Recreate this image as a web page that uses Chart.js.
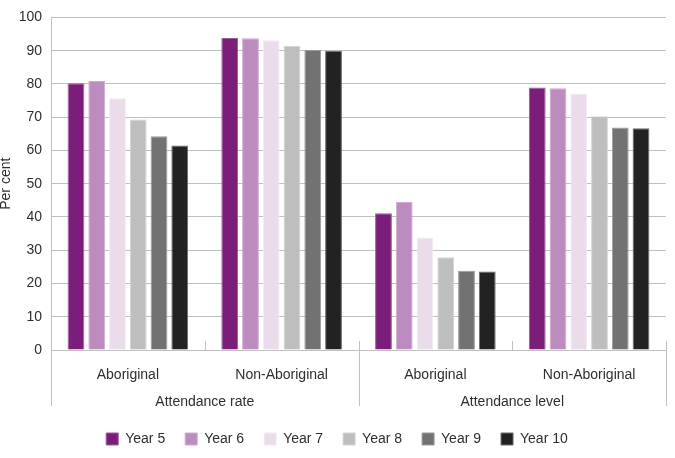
<!DOCTYPE html>
<html>
<head>
<meta charset="utf-8">
<script src="https://cdn.jsdelivr.net/npm/chart.js@4.4.1/dist/chart.umd.min.js"></script>
<style>
  html, body { margin: 0; padding: 0; background: #fff; }
  #wrap { width: 675px; height: 458px; position: relative; }
</style>
</head>
<body>
<div id="wrap"><canvas id="chart"></canvas></div>
<script>
const categories = ["Aboriginal", "Non-Aboriginal", "Aboriginal", "Non-Aboriginal"];
const groupLabels = ["Attendance rate", "Attendance level"];
const yTicks = [0, 10, 20, 30, 40, 50, 60, 70, 80, 90, 100];

const year5 = [80.2, 93.8, 41.1, 78.9];
const year6 = [80.9, 93.7, 44.5, 78.7];
const year7 = [75.7, 93.1, 33.8, 77.1];
const year8 = [69.3, 91.5, 27.9, 70.3];
const year9 = [64.3, 90.2, 23.8, 66.9];
const year10 = [61.5, 90.0, 23.6, 66.7];

const textColor = "#2e2e2e";
const gridColor = "#c0c0c0";
const fontFamily = "'Liberation Sans', Arial, sans-serif";

function series(label, data, fill, edge) {
  return {
    label,
    data,
    backgroundColor: fill,
    borderColor: edge,
    borderWidth: 1,
    categoryPercentage: 0.81,
    barPercentage: 0.81,
  };
}

// category separators: short ticks inside, long ones between the two groups
const separators = {
  id: "separators",
  afterDraw(chart) {
    const x = chart.scales.x;
    const x2 = chart.scales.x2;
    const ctx = chart.ctx;
    ctx.save();
    ctx.strokeStyle = gridColor;
    ctx.lineWidth = 1;
    for (let i = 0; i <= categories.length; i++) {
      const px = Math.round(x.getPixelForValue(i - 0.5)) + 0.5;
      const long = i % 2 === 0;
      ctx.beginPath();
      ctx.moveTo(px, x.top - 9);
      ctx.lineTo(px, long ? x2.bottom - 6 : x.top);
      ctx.stroke();
    }
    ctx.restore();
  },
};

new Chart(document.getElementById("chart"), {
  type: "bar",
  data: {
    labels: categories,
    datasets: [
      series("Year 5", year5, "#7b1e7a", "#9c5a9b"),
      series("Year 6", year6, "#bc8cbe", "#cfabd0"),
      series("Year 7", year7, "#eadcea", "#f3ebf3"),
      series("Year 8", year8, "#bebebe", "#d4d4d4"),
      series("Year 9", year9, "#737272", "#9a9a9a"),
      series("Year 10", year10, "#222222", "#6a6a6a"),
    ],
  },
  options: {
    responsive: true,
    maintainAspectRatio: false,
    animation: false,
    layout: { padding: { top: 6, right: 9, left: 8, bottom: 2 } },
    plugins: {
      legend: {
        position: "bottom",
        labels: {
          color: textColor,
          font: { family: fontFamily, size: 14 },
          boxWidth: 12,
          boxHeight: 12,
          padding: 20,
        },
      },
      tooltip: { enabled: false },
    },
    scales: {
      x: {
        offset: true,
        grid: { display: false, drawTicks: false, tickLength: 0 },
        border: { display: true, color: gridColor },
        ticks: {
          color: textColor,
          font: { family: fontFamily, size: 14 },
          padding: 17,
          maxRotation: 0,
        },
        afterFit: (scale) => { scale.height = 34; },
      },
      x2: {
        type: "category",
        position: "bottom",
        labels: groupLabels,
        offset: true,
        grid: { display: false, drawTicks: false, tickLength: 0 },
        border: { display: false },
        ticks: {
          color: textColor,
          font: { family: fontFamily, size: 14 },
          padding: 10,
          maxRotation: 0,
        },
        afterFit: (scale) => { scale.height = 28; },
      },
      y: {
        min: 0,
        max: 100,
        afterBuildTicks: (scale) => {
          scale.ticks = yTicks.map((v) => ({ value: v }));
        },
        grid: { color: gridColor, drawTicks: false, tickLength: 0 },
        border: { display: true, color: gridColor },
        ticks: {
          color: textColor,
          font: { family: fontFamily, size: 14 },
          padding: 9,
        },
        title: {
          display: true,
          text: "Per cent",
          color: textColor,
          font: { family: fontFamily, size: 14 },
          padding: { top: -10, bottom: 4 },
        },
        afterFit: (scale) => { scale.width = 43; },
      },
    },
  },
  plugins: [separators],
});
</script>
</body>
</html>
